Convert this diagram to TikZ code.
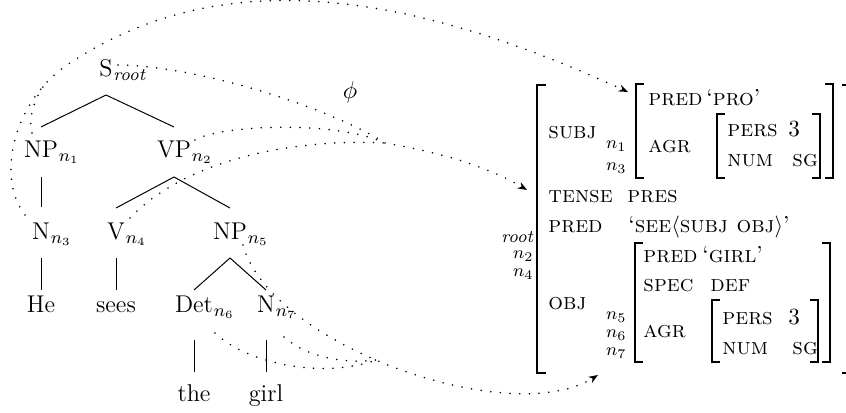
\documentclass[tikz,border=0pt]{standalone}
\usetikzlibrary{calc,arrows.meta}
\begin{document}
\begin{tikzpicture}[x=0.4539pt,y=-0.4539pt,
  tn/.style={anchor=base,inner sep=0pt,font=\fontsize{11}{13}\selectfont},
  tsub/.style={anchor=base west,inner sep=0pt,font=\fontsize{11}{13}\selectfont},
  edge/.style={line width=0.45pt},
  av/.style={anchor=base west,inner sep=0pt,font=\fontsize{10.5}{12.5}\selectfont},
  lab/.style={anchor=base east,inner sep=0pt,font=\fontsize{8}{9.6}\selectfont},
  brk/.style={line width=0.75pt},
  obrk/.style={line width=1.3pt},
  phi/.style={line width=0.8pt,line cap=round,dash pattern=on 0pt off 4.4pt},
  phiarrow/.style={phi,-{Stealth[length=4.2pt,width=3.2pt,inset=1.3pt]}},
]
\useasboundingbox (0,0) rectangle (846,413);

% ---------- c-structure ----------
\node[tn] (s)    at (106,77)  {S};
\node[tsub] (s-sub) at (s.base east) {${}_{\mathit{root}}$};
\node[tn] (np1)  at (41,158)  {NP};
\node[tsub] (np1-sub) at (np1.base east) {${}_{n_1}$};
\node[tn] (vp2)  at (174,158) {VP};
\node[tsub] (vp2-sub) at (vp2.base east) {${}_{n_2}$};
\node[tn] (n3)   at (41,240)  {N};
\node[tsub] (n3-sub) at (n3.base east) {${}_{n_3}$};
\node[tn] (v4)   at (116,240) {V};
\node[tsub] (v4-sub) at (v4.base east) {${}_{n_4}$};
\node[tn] (np5)  at (230,240) {NP};
\node[tsub] (np5-sub) at (np5.base east) {${}_{n_5}$};
\node[tn] (he)   at (41,313)  {He};
\node[tn] (sees) at (116,313) {sees};
\node[tn] (det6) at (194,313) {Det};
\node[tsub] (det6-sub) at (det6.base east) {${}_{n_6}$};
\node[tn] (n7)   at (266,313) {N};
\node[tsub] (n7-sub) at (n7.base east) {${}_{n_7}$};
\node[tn] (the)  at (194,402) {the};
\node[tn] (girl) at (266,402) {girl};

\draw[edge] ($(s.base)+(0,18)$) -- ($(np1.base)+(0,-31)$);
\draw[edge] ($(s.base)+(0,18)$) -- ($(vp2.base)+(0,-31)$);
\draw[edge] ($(np1.base)+(0,19)$) -- ($(n3.base)+(0,-33)$);
\draw[edge] ($(vp2.base)+(0,19)$) -- ($(v4.base)+(0,-32)$);
\draw[edge] ($(vp2.base)+(0,19)$) -- ($(np5.base)+(0,-32)$);
\draw[edge] ($(n3.base)+(0,18)$) -- ($(he.base)+(0,-23)$);
\draw[edge] ($(v4.base)+(0,18)$) -- ($(sees.base)+(0,-23)$);
\draw[edge] ($(np5.base)+(0,18)$) -- ($(det6.base)+(0,-23)$);
\draw[edge] ($(np5.base)+(0,18)$) -- ($(n7.base)+(0,-23)$);
\draw[edge] ($(det6.base)+(0,27)$) -- ($(the.base)+(0,-30)$);
\draw[edge] ($(n7.base)+(0,27)$) -- ($(girl.base)+(0,-30)$);

\node[font=\fontsize{11}{13}\selectfont] (phi-label) at (350,92) {$\phi$};

% ---------- f-structure ----------
\draw[obrk] (546,85) -- (537,85) -- (537,373) -- (546,373);
\draw[obrk] (842,85) -- (851,85) -- (851,373) -- (842,373);
% SUBJ
\draw[brk] (644,84) -- (636,84) -- (636,178) -- (644,178);
\draw[brk] (825,84) -- (833,84) -- (833,178) -- (825,178);
\draw[brk] (725,114) -- (717,114) -- (717,178) -- (725,178);
\draw[brk] (812,114) -- (820,114) -- (820,178) -- (812,178);
% OBJ
\draw[brk] (643,243) -- (635,243) -- (635,362) -- (643,362);
\draw[brk] (822,243) -- (830,243) -- (830,362) -- (822,362);
\draw[brk] (720,300) -- (712,300) -- (712,362) -- (720,362);
\draw[brk] (810,300) -- (818,300) -- (818,362) -- (810,362);

\node[av] (subj)  at (548,139) {\textsc{subj}};
\node[lab] (l-n1) at (627,149) {$n_1$};
\node[lab] (l-n3) at (627,171) {$n_3$};
\node[av] (pred1) at (648,106) {\textsc{pred}};
\node[av] (pro)   at (706,106) {`\textsc{pro}'};
\node[av] (agr1)  at (648,153) {\textsc{agr}};
\node[av] (pers1) at (727,137) {\textsc{pers}};
\node[av] (three1) at (788,137) {3};
\node[av] (num1)  at (727,167) {\textsc{num}};
\node[av] (sg1)   at (792,167) {\textsc{sg}};

\node[av] (tense) at (548,203) {\textsc{tense}};
\node[av] (pres)  at (627,203) {\textsc{pres}};
\node[av] (pred0) at (548,233) {\textsc{pred}};
\node[av] (see)   at (628,233) {`\textsc{see}{\fontsize{10}{12}\selectfont$\langle$}\textsc{subj obj}{\fontsize{10}{12}\selectfont$\rangle$}'};
\node[lab] (l-root) at (534,243) {\textit{root}};
\node[lab] (l-n2) at (534,259) {$n_2$};
\node[lab] (l-n4) at (534,277) {$n_4$};

\node[av] (obj)   at (548,310) {\textsc{obj}};
\node[lab] (l-n5) at (627,320) {$n_5$};
\node[lab] (l-n6) at (627,338) {$n_6$};
\node[lab] (l-n7) at (627,356) {$n_7$};
\node[av] (pred2) at (643,263) {\textsc{pred}};
\node[av] (girlfs) at (702,263) {`\textsc{girl}'};
\node[av] (spec)  at (643,292) {\textsc{spec}};
\node[av] (def)   at (710,292) {\textsc{def}};
\node[av] (agr2)  at (643,338) {\textsc{agr}};
\node[av] (pers2) at (722,325) {\textsc{pers}};
\node[av] (three2) at (788,325) {3};
\node[av] (num2)  at (722,355) {\textsc{num}};
\node[av] (sg2)   at (792,355) {\textsc{sg}};

% ---------- phi mapping ----------
\coordinate (a-n3) at (25,215);
\coordinate (a-mid) at (67,65);
\coordinate (a-n1) at (32,133);
\coordinate (a-join) at (46,83);
\coordinate (fs-subj) at (628,92);
\draw[phiarrow] (a-n3) .. controls (-5,176) and (15,100) .. (a-mid)
   .. controls (223,-40) and (414,-6) .. (fs-subj);
\draw[phi] (a-n1) .. controls (27,115) and (38,92) .. (a-join);

\coordinate (c-root) at (118,65);
\coordinate (c-n2) at (195,140);
\coordinate (c-n4) at (130,218);
\coordinate (c-join) at (385,143);
\coordinate (fs-root) at (527,190);
\draw[phi] (c-root) .. controls (200,66) and (330,108) .. (c-join);
\draw[phi] (c-n2) .. controls (220,125) and (335,120) .. (c-join);
\draw[phi] (c-n4) .. controls (180,165) and (280,138) .. (c-join);
\draw[phiarrow] (c-join) .. controls (425,150) and (480,162) .. (fs-root);

\coordinate (f-n5) at (243,245);
\coordinate (f-n6) at (215,333);
\coordinate (f-n7) at (284,337);
\coordinate (f-join) at (376,360);
\coordinate (fs-obj) at (598,375);
\draw[phiarrow] (f-n5) .. controls (270,345) and (510,430) .. (fs-obj);
\draw[phi] (f-n6) .. controls (245,362) and (320,380) .. (f-join);
\draw[phi] (f-n7) .. controls (300,352) and (335,365) .. (f-join);
\end{tikzpicture}
\end{document}
